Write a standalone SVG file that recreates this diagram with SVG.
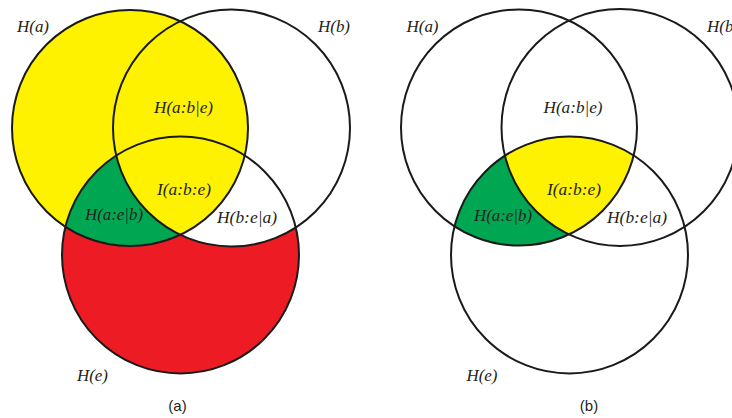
<svg xmlns="http://www.w3.org/2000/svg" width="732" height="418" viewBox="0 0 732 418">
<style>
.ln{fill:none;stroke:#1a1a1a;stroke-width:2}
.lb{font-family:"Liberation Serif",serif;font-style:italic;font-size:17px;fill:#231f20;text-anchor:middle}
.cap{font-family:"Liberation Sans",sans-serif;font-size:15px;fill:#231f20;text-anchor:middle}
</style>
<defs>
<clipPath id="cAL"><circle cx="130" cy="128" r="118"/></clipPath>
<clipPath id="cEL"><circle cx="180.5" cy="255" r="118.5"/></clipPath>
<clipPath id="cAR"><circle cx="519" cy="127.5" r="118"/></clipPath>
<clipPath id="cER"><circle cx="569.5" cy="255" r="118.5"/></clipPath>
</defs>
<rect width="732" height="418" fill="#fff"/>
<g id="diagram-a">
<g id="fills-a">
<circle cx="180.5" cy="255" r="118.5" fill="#ed1c24"/>
<circle cx="231.5" cy="128" r="118.5" fill="#fff" clip-path="url(#cEL)"/>
<circle cx="130" cy="128" r="118" fill="#fff200"/>
<circle cx="180.5" cy="255" r="118.5" fill="#00a651" clip-path="url(#cAL)"/>
<g clip-path="url(#cAL)"><circle cx="231.5" cy="128" r="118.5" fill="#fff200" clip-path="url(#cEL)"/></g>
</g>
<g id="a-Ha"><circle class="ln" cx="130" cy="128" r="118"/><text class="lb" x="33" y="32" textLength="32" lengthAdjust="spacingAndGlyphs">H(a)</text></g>
<g id="a-Hb"><circle class="ln" cx="231.5" cy="128" r="118.5"/><text class="lb" x="334" y="32" textLength="32" lengthAdjust="spacingAndGlyphs">H(b)</text></g>
<g id="a-He"><circle class="ln" cx="180.5" cy="255" r="118.5"/><text class="lb" x="92.5" y="381" textLength="31" lengthAdjust="spacingAndGlyphs">H(e)</text></g>
<g id="a-labels">
<text class="lb" x="183.5" y="113" textLength="59" lengthAdjust="spacingAndGlyphs">H(a:b|e)</text>
<text class="lb" x="184" y="195" textLength="54" lengthAdjust="spacingAndGlyphs">I(a:b:e)</text>
<text class="lb" x="114" y="220" textLength="58" lengthAdjust="spacingAndGlyphs">H(a:e|b)</text>
<text class="lb" x="247" y="223" textLength="60" lengthAdjust="spacingAndGlyphs">H(b:e|a)</text>
</g>
<text class="cap" x="177.5" y="411">(a)</text>
</g>
<g id="diagram-b">
<g id="fills-b">
<circle cx="569.5" cy="255" r="118.5" fill="#00a651" clip-path="url(#cAR)"/>
<g clip-path="url(#cAR)"><circle cx="620" cy="127.5" r="118.5" fill="#fff200" clip-path="url(#cER)"/></g>
</g>
<g id="b-Ha"><circle class="ln" cx="519" cy="127.5" r="118"/><text class="lb" x="422.5" y="32" textLength="32" lengthAdjust="spacingAndGlyphs">H(a)</text></g>
<g id="b-Hb"><circle class="ln" cx="620" cy="127.5" r="118.5"/><text class="lb" x="707" y="32" style="text-anchor:start" textLength="32" lengthAdjust="spacingAndGlyphs">H(b)</text></g>
<g id="b-He"><circle class="ln" cx="569.5" cy="255" r="118.5"/><text class="lb" x="482" y="381" textLength="31" lengthAdjust="spacingAndGlyphs">H(e)</text></g>
<g id="b-labels">
<text class="lb" x="573" y="113" textLength="59" lengthAdjust="spacingAndGlyphs">H(a:b|e)</text>
<text class="lb" x="574" y="195" textLength="54" lengthAdjust="spacingAndGlyphs">I(a:b:e)</text>
<text class="lb" x="503" y="221" textLength="58" lengthAdjust="spacingAndGlyphs">H(a:e|b)</text>
<text class="lb" x="637" y="223" textLength="60" lengthAdjust="spacingAndGlyphs">H(b:e|a)</text>
</g>
<text class="cap" x="589" y="411">(b)</text>
</g>
</svg>
